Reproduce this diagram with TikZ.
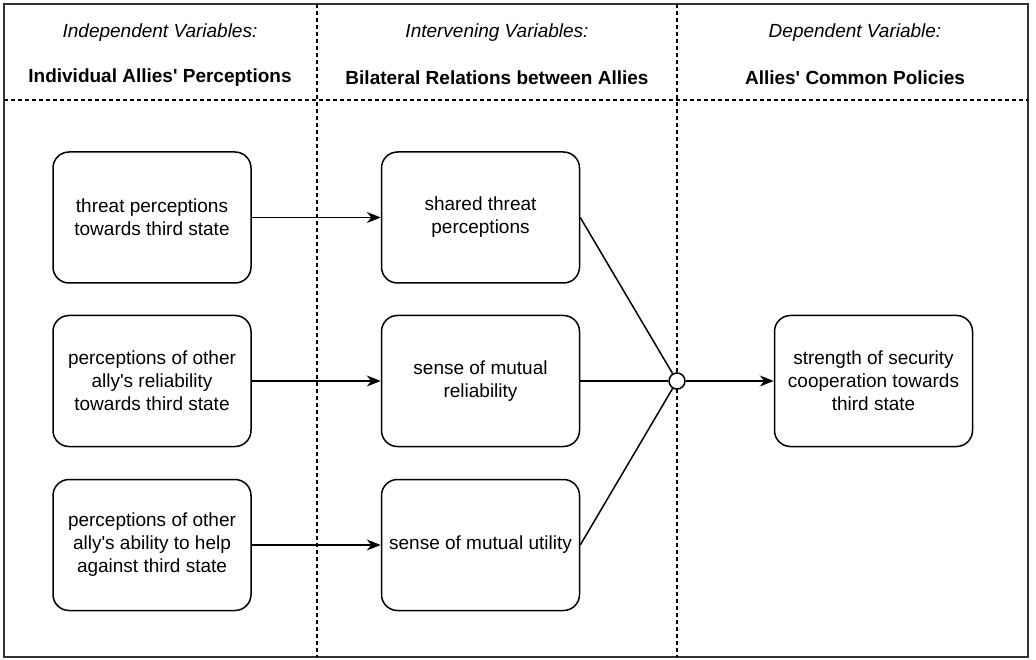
\documentclass[tikz,border=0pt]{standalone}
\usepackage{fontspec}
\setmainfont{Liberation Sans}
\usetikzlibrary{arrows.meta}
\newcommand{\apos}{\textquotesingle}
\begin{document}
\begin{tikzpicture}[x=1pt,y=-1pt,
  every node/.style={font=\fontsize{19}{23}\selectfont},
  varbox/.style={draw, line width=1.5pt, rounded corners=16pt, minimum width=198pt, minimum height=131pt, align=center, inner sep=0pt},
  sep/.style={line width=1.2pt, dash pattern=on 4pt off 3pt},
  conn/.style={line width=1.5pt},
  arr/.style={conn, -{Stealth[length=14pt,width=11pt]}},
  hdi/.style={font=\fontsize{19}{23}\selectfont\itshape},
  hdb/.style={font=\fontsize{19}{23}\selectfont\bfseries}
]
\useasboundingbox (0,0) rectangle (1036,660);
% frame and separators
\draw[line width=1.6pt, black!80] (4,4) rectangle (1028,657);
\draw[sep] (317,4) -- (317,657);
\draw[sep] (677,4) -- (677,657);
\draw[sep] (4,100) -- (1028,100);
% headers
\node[hdi] (h1i) at (160,33) {Independent Variables:};
\node[hdb] (h1b) at (160,78) {Individual Allies\apos{} Perceptions};
\node[hdi] (h2i) at (497,33) {Intervening Variables:};
\node[hdb] (h2b) at (497,78) {Bilateral Relations between Allies};
\node[hdi] (h3i) at (855,33) {Dependent Variable:};
\node[hdb] (h3b) at (855,78) {Allies\apos{} Common Policies};
% boxes
\node[varbox] (L1) at (152,217.5) {threat perceptions\\towards third state};
\node[varbox] (L2) at (152,381) {perceptions of other\\ally\apos{}s reliability\\towards third state};
\node[varbox] (L3) at (152,545) {perceptions of other\\ally\apos{}s ability to help\\against third state};
\node[varbox] (M1) at (480.5,217.5) {shared threat\\perceptions};
\node[varbox] (M2) at (480.5,381) {sense of mutual\\reliability};
\node[varbox] (M3) at (480.5,545) {sense of mutual utility};
\node[varbox] (R) at (873.5,381) {strength of security\\cooperation towards\\third state};
% junction
\node[draw, circle, line width=1.5pt, fill=white, minimum size=16pt, inner sep=0pt] (J) at (677,381) {};
% connectors
\draw[arr] (L1.east) -- (M1.west);
\draw[arr] (L2.east) -- (M2.west);
\draw[arr] (L3.east) -- (M3.west);
\draw[conn] (M1.east) -- (J);
\draw[conn] (M2.east) -- (J);
\draw[conn] (M3.east) -- (J);
\draw[arr] (J) -- (R.west);
\end{tikzpicture}
\end{document}
